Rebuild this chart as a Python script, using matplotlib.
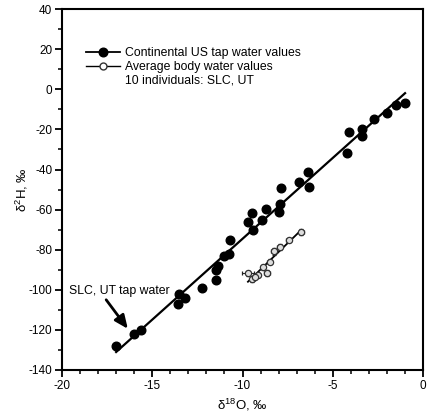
import numpy as np
import matplotlib
matplotlib.use("Agg")
import matplotlib.pyplot as plt
from matplotlib.lines import Line2D
from matplotlib.ticker import MultipleLocator

plt.rcParams['font.family'] = ['Liberation Sans', 'DejaVu Sans']
plt.rcParams['mathtext.default'] = 'regular'
plt.rcParams['axes.unicode_minus'] = False

# Continental US tap water (d18O, d2H)
tap_d18O = np.array([-17.0, -16.0, -15.6, -13.6, -13.5, -13.2, -12.25, -11.45, -11.45,
                     -11.35, -11.05, -10.75, -10.7, -9.7, -9.5, -9.4, -8.9, -8.7,
                     -8.0, -7.9, -7.87, -6.9, -6.35, -6.3, -4.2, -4.1, -3.4, -3.4,
                     -2.7, -2.0, -1.5, -1.0])
tap_d2H = np.array([-128.3, -122.2, -120.0, -107.2, -102.0, -104.0, -99.3, -95.2, -90.0,
                    -88.0, -83.0, -82.2, -75.0, -66.2, -61.8, -70.2, -65.2, -59.9,
                    -61.0, -57.0, -49.0, -46.0, -41.0, -48.8, -32.0, -21.2, -20.0, -23.1,
                    -15.0, -12.0, -8.0, -7.0])

# Average body water values, 10 individuals (SLC, UT)
body_d18O = np.array([-6.75, -7.45, -7.95, -8.25, -8.5, -8.85, -8.65, -9.15, -9.45, -9.7, -9.3])
body_d2H = np.array([-71.0, -75.2, -78.5, -80.8, -86.0, -88.8, -91.8, -92.6, -94.8, -91.8, -93.5])
body_xerr = np.array([0.15, 0.12, 0.15, 0.18, 0.12, 0.12, 0.15, 0.12, 0.15, 0.35, 0.12])
body_yerr = np.array([1.5, 1.2, 1.5, 1.8, 1.2, 1.2, 1.5, 1.2, 1.5, 1.2, 1.2])

fig = plt.figure(figsize=(4.30, 4.18), dpi=100)
ax = fig.add_axes([0.144, 0.115, 0.840, 0.863])

# tap water points and regression line
k1, b1 = np.polyfit(tap_d18O, tap_d2H, 1)
xx1 = np.array([tap_d18O.min(), tap_d18O.max()])
ax.plot(xx1, k1 * xx1 + b1, color='black', lw=1.6, zorder=2)
ax.plot(tap_d18O, tap_d2H, 'o', color='black', ms=6.2, zorder=3)

# body water points with error bars and regression line
k2, b2 = np.polyfit(body_d18O, body_d2H, 1)
xx2 = np.array([body_d18O.min(), body_d18O.max()])
ax.plot(xx2, k2 * xx2 + b2, color='black', lw=1.3, zorder=2)
ax.errorbar(body_d18O, body_d2H, xerr=body_xerr, yerr=body_yerr, fmt='o',
            mfc='#dddddd', mec='#333333', ms=4.5, mew=0.9, ecolor='#222222',
            elinewidth=0.8, capsize=1.5, capthick=0.8, zorder=4)

# legend
h1 = Line2D([], [], color='black', marker='o', ms=6.2, lw=1.3)
h2 = Line2D([], [], color='black', marker='o', mfc='white', mec='#333333', ms=5, lw=1.0)
h3 = Line2D([], [], linestyle='none')
leg = ax.legend([h1, h2, h3],
                ['Continental US tap water values', 'Average body water values',
                 '10 individuals: SLC, UT'],
                loc='upper left', bbox_to_anchor=(0.042, 0.918), frameon=False,
                fontsize=8.8, handlelength=2.8, handletextpad=0.4, labelspacing=0.15,
                borderpad=0.2)

# annotation
ax.text(-19.6, -100.5, 'SLC, UT tap water', fontsize=8.8, va='center', ha='left')
ax.annotate('', xy=(-16.35, -119.5), xytext=(-17.55, -105),
            arrowprops=dict(arrowstyle='-|>,head_width=0.35,head_length=0.8',
                            color='black', lw=2.0, shrinkA=0, shrinkB=0))

ax.set_xlim(-20, 0)
ax.set_ylim(-140, 40)
ax.xaxis.set_major_locator(MultipleLocator(5))
ax.xaxis.set_minor_locator(MultipleLocator(1))
ax.yaxis.set_major_locator(MultipleLocator(20))
ax.yaxis.set_minor_locator(MultipleLocator(10))
ax.tick_params(which='major', direction='out', length=5, width=1.3, labelsize=8.5, pad=2)
ax.tick_params(which='minor', direction='out', length=3, width=1.1)
for sp in ax.spines.values():
    sp.set_linewidth(1.5)

ax.set_xlabel('δ$^{18}$O, ‰', fontsize=9.5, labelpad=4)
ax.set_ylabel('δ$^{2}$H, ‰', fontsize=9.5, labelpad=-1)

fig.savefig('out.png', dpi=100)
